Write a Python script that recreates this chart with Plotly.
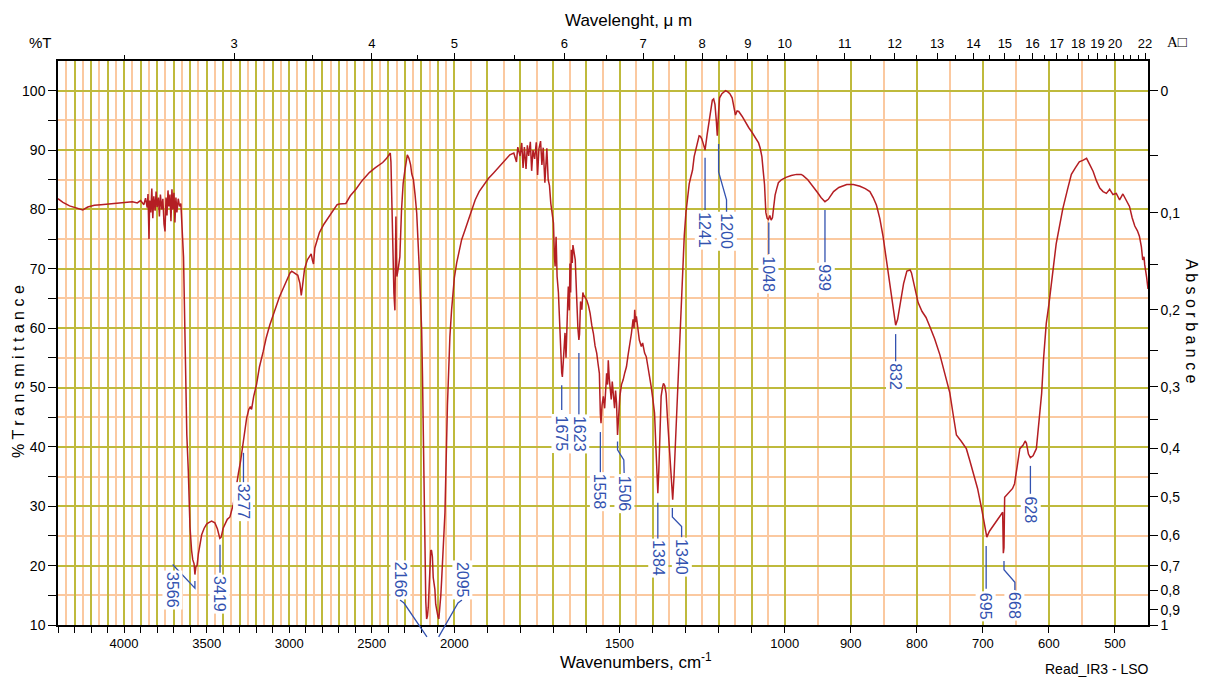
import plotly.graph_objects as go

# ---------------- data ----------------
wavenumber = [
    4400, 4370, 4330, 4290, 4250, 4220, 4180, 4140, 4100, 4060, 4020, 3980, 3950, 3920, 3900,
    3880, 3870, 3860, 3855, 3849, 3845, 3838, 3832, 3826, 3820, 3812, 3806, 3800, 3792, 3786,
    3780, 3772, 3765, 3758, 3752, 3746, 3740, 3734, 3728, 3722, 3716, 3710, 3704, 3698, 3692,
    3686, 3680, 3672, 3664, 3656, 3650, 3645, 3640, 3636, 3631, 3626, 3620, 3611, 3605, 3601,
    3591, 3584, 3576, 3571, 3565, 3558, 3550, 3540, 3530, 3515, 3500, 3490, 3470, 3450, 3435,
    3420, 3412, 3400, 3389, 3375, 3359, 3345, 3339, 3325, 3315, 3308, 3295, 3285, 3278, 3268,
    3258, 3245, 3235, 3228, 3215, 3198, 3180, 3158, 3140, 3118, 3100, 3078, 3060, 3038, 3015,
    2995, 2985, 2965, 2948, 2935, 2927, 2920, 2907, 2890, 2867, 2860, 2853, 2845, 2830, 2817,
    2790, 2757, 2730, 2710, 2697, 2677, 2657, 2630, 2596, 2560, 2515, 2480, 2434, 2410, 2394,
    2388, 2384, 2378, 2374, 2368, 2366, 2360, 2356, 2354, 2351, 2348, 2340, 2330, 2320, 2310,
    2300, 2293, 2285, 2275, 2265, 2258, 2248, 2238, 2228, 2212, 2198, 2193, 2188, 2183, 2178,
    2173, 2168, 2163, 2158, 2153, 2148, 2143, 2138, 2133, 2128, 2118, 2113, 2108, 2100, 2094,
    2088, 2082, 2077, 2068, 2057, 2052, 2047, 2042, 2037, 2032, 2027, 2017, 2007, 2000, 1993,
    1985, 1978, 1968, 1958, 1948, 1937, 1925, 1912, 1897, 1882, 1867, 1852, 1842, 1832, 1820,
    1812, 1808, 1801, 1796, 1792, 1788, 1783, 1779, 1775, 1770, 1766, 1762, 1757, 1752, 1748,
    1744, 1739, 1735, 1731, 1726, 1722, 1720, 1716, 1712, 1708, 1705, 1700, 1697, 1695, 1692,
    1689, 1685, 1682, 1678, 1675, 1673, 1670, 1667, 1665, 1662, 1660, 1657, 1655, 1652, 1650,
    1648, 1646, 1643, 1641, 1638, 1634, 1631, 1629, 1626, 1623, 1621, 1618, 1614, 1611, 1609,
    1604, 1599, 1594, 1589, 1584, 1579, 1574, 1569, 1565, 1561, 1558, 1556, 1553, 1549, 1545,
    1542, 1539, 1536, 1534, 1531, 1529, 1525, 1522, 1519, 1515, 1512, 1509, 1506, 1503, 1499,
    1494, 1489, 1484, 1479, 1474, 1469, 1464, 1459, 1456, 1454, 1451, 1449, 1444, 1440, 1434,
    1430, 1424, 1419, 1414, 1409, 1404, 1399, 1394, 1389, 1384, 1381, 1379, 1374, 1370, 1367,
    1363, 1359, 1355, 1351, 1347, 1344, 1339, 1335, 1332, 1328, 1324, 1319, 1314, 1309, 1304,
    1299, 1294, 1289, 1284, 1279, 1274, 1269, 1264, 1259, 1255, 1251, 1246, 1241, 1235, 1229,
    1224, 1219, 1215, 1211, 1207, 1204, 1200, 1197, 1190, 1185, 1179, 1172, 1166, 1159, 1154,
    1149, 1144, 1139, 1129, 1119, 1109, 1099, 1089, 1079, 1074, 1069, 1065, 1061, 1057, 1053,
    1049, 1045, 1041, 1037, 1033, 1029, 1024, 1019, 1010, 998, 990, 982, 975, 972, 965,
    957, 950, 945, 939, 934, 926, 918, 906, 896, 886, 878, 871, 866, 861, 856,
    851, 846, 841, 836, 832, 829, 825, 820, 815, 810, 808, 803, 798, 792, 786,
    780, 773, 765, 758, 750, 745, 740, 733, 725, 720, 715, 708, 702, 698, 694,
    690, 684, 678, 672, 670, 669, 668, 667, 663, 659, 655, 652, 648, 644, 639,
    636, 634, 631, 628, 624, 619, 615, 611, 608, 604, 600, 596, 593, 589, 584,
    579, 572, 566, 560, 554, 548, 543, 538, 533, 528, 523, 518, 513, 508, 503,
    498, 493, 488, 483, 478, 474, 470, 466, 463, 460, 458, 456, 455, 452, 450,
]

transmittance = [
    81.8, 81.2, 80.6, 80.2, 79.9, 80.4, 80.7, 80.8, 80.9, 81.0, 81.1, 81.2, 81.3, 81.1, 81.5,
    80.8, 81.9, 80.3, 82.6, 75.0, 81.5, 79.5, 83.5, 78.5, 82.2, 79.8, 83.0, 80.4, 82.0, 78.8,
    82.5, 80.0, 81.8, 77.5, 76.3, 82.0, 79.0, 83.2, 80.5, 82.5, 78.0, 83.4, 80.0, 82.8, 77.8,
    82.0, 79.5, 81.8, 80.5, 81.0, 78.0, 74.5, 72.0, 66.0, 57.5, 48.0, 42.0, 36.0, 30.0, 26.6,
    22.5, 21.0, 20.3, 18.5, 19.8, 20.0, 22.0, 24.0, 25.2, 26.3, 27.0, 27.2, 27.5, 27.2, 26.2,
    24.6, 24.8, 26.3, 27.0, 27.8, 28.2, 29.5, 30.3, 32.5, 34.5, 35.5, 37.5, 39.5, 40.5, 42.5,
    44.8, 46.3, 46.8, 46.3, 48.5, 50.5, 53.5, 56.0, 58.3, 60.5, 62.0, 63.8, 65.2, 66.6, 68.0,
    69.3, 69.6, 69.3, 68.9, 67.5, 65.5, 67.0, 70.0, 71.5, 72.5, 71.5, 70.8, 73.5, 75.0, 76.1,
    77.5, 78.9, 80.0, 80.8, 80.9, 80.9, 81.0, 82.3, 83.4, 84.8, 86.2, 87.0, 87.9, 88.6, 89.3,
    89.5, 88.0, 80.0, 77.1, 70.0, 65.9, 63.0, 70.0, 78.8, 72.0, 68.7, 70.0, 72.0, 79.9, 84.4,
    86.5, 88.3, 89.2, 88.6, 87.5, 86.0, 85.0, 82.5, 79.4, 69.8, 59.7, 52.0, 42.9, 32.0, 20.5,
    14.0, 11.0, 11.5, 13.0, 16.5, 20.0, 22.6, 22.5, 21.5, 18.0, 16.0, 13.5, 12.6, 11.5, 11.0,
    12.5, 15.0, 17.6, 22.0, 28.9, 35.0, 42.9, 47.0, 50.8, 55.0, 58.6, 63.0, 66.4, 68.5, 71.0,
    73.0, 74.9, 76.5, 78.2, 80.0, 81.6, 83.0, 84.1, 85.2, 86.1, 87.0, 88.0, 88.6, 89.2, 89.5,
    88.0, 90.5, 89.0, 91.2, 87.0, 90.5, 86.8, 90.8, 89.0, 91.4, 86.5, 90.0, 88.5, 91.3, 85.8,
    90.2, 91.5, 87.5, 90.4, 84.5, 90.0, 90.3, 85.0, 84.0, 81.0, 79.9, 77.7, 72.0, 70.4, 75.4,
    68.7, 66.0, 61.4, 56.9, 52.5, 51.8, 54.6, 57.5, 59.2, 55.0, 61.4, 64.0, 67.0, 63.0, 70.9,
    66.0, 73.2, 71.0, 74.0, 72.5, 71.5, 67.0, 63.6, 60.0, 58.0, 59.0, 64.5, 63.1, 66.0, 65.6,
    65.2, 64.7, 63.8, 62.5, 60.5, 59.1, 57.0, 55.8, 54.0, 52.4, 45.5, 44.0, 47.0, 48.5, 46.5,
    50.0, 52.4, 50.5, 54.6, 51.5, 50.2, 48.0, 51.0, 49.0, 46.5, 49.5, 47.4, 42.0, 45.0, 48.5,
    50.5, 51.3, 52.5, 53.5, 55.5, 57.0, 59.1, 61.5, 60.0, 63.1, 61.0, 62.0, 59.7, 58.0, 56.9,
    57.5, 55.8, 55.2, 53.5, 52.0, 50.1, 48.0, 45.7, 38.9, 32.2, 36.0, 41.2, 48.5, 50.0, 50.7,
    50.3, 49.0, 45.0, 41.2, 37.0, 34.4, 31.1, 35.0, 38.9, 44.0, 50.1, 56.0, 61.4, 70.0, 75.5,
    79.4, 82.0, 84.3, 85.5, 86.6, 88.9, 90.2, 91.3, 92.4, 92.3, 91.9, 91.0, 90.0, 92.5, 94.7,
    96.8, 98.4, 98.6, 97.7, 95.0, 92.4, 96.5, 98.8, 99.5, 99.8, 100.0, 99.8, 99.5, 98.8, 97.5,
    95.9, 96.6, 96.5, 95.7, 94.7, 93.8, 93.0, 92.0, 91.2, 90.3, 88.9, 86.5, 84.2, 79.5, 78.5,
    78.3, 79.0, 78.2, 78.6, 80.5, 82.4, 83.5, 84.5, 85.0, 85.4, 85.7, 85.9, 85.9, 85.7, 85.0,
    83.9, 82.8, 82.0, 81.3, 81.7, 83.0, 83.7, 84.2, 84.2, 83.9, 83.5, 83.0, 82.0, 80.7, 78.5,
    75.4, 71.5, 67.8, 63.5, 60.5, 61.5, 64.3, 67.5, 69.6, 69.8, 69.3, 67.0, 64.3, 62.8, 61.8,
    60.2, 58.2, 55.5, 52.5, 49.1, 45.5, 42.0, 41.0, 39.7, 37.8, 35.6, 33.0, 29.7, 27.0, 24.8,
    25.8, 26.8, 27.8, 28.6, 29.0, 22.1, 23.0, 31.5, 32.0, 32.4, 33.0, 33.8, 36.5, 39.7, 40.3,
    41.0, 40.6, 38.8, 38.2, 38.5, 39.7, 44.0, 49.0, 55.0, 60.8, 64.0, 67.2, 70.5, 74.2, 77.5,
    80.1, 83.3, 85.9, 87.0, 88.0, 88.3, 88.6, 87.5, 86.4, 84.8, 83.6, 83.0, 82.7, 83.4, 82.5,
    82.7, 81.6, 82.6, 81.6, 80.5, 78.6, 77.2, 76.4, 75.5, 73.7, 71.5, 72.0, 70.7, 68.5, 66.6,
]

# labelled peaks (cm-1)
peak_labels = [3566, 3419, 3277, 2166, 2095, 1675, 1623, 1558, 1506, 1384, 1340,
               1241, 1200, 1048, 939, 832, 695, 668, 628]

# axis tick values
wn_major_ticks = list(range(4400, 499, -100))
wn_labelled = [4000, 3500, 3000, 2500, 2000, 1500, 1000, 900, 800, 700, 600, 500]
wn_minor_ticks = list(range(4350, 549, -100))
wl_major = [3, 4, 5, 6, 7, 8, 9, 10, 11, 12, 13, 14, 15, 16, 17, 18, 19, 20, 22]
wl_minor = [2.5, 3.5, 4.5, 5.5, 6.5, 7.5, 8.5, 9.5, 10.5, 11.5, 12.5, 13.5, 14.5, 15.5,
            16.5, 17.5, 18.5, 19.5, 20.5, 21, 21.5]
t_major = list(range(10, 101, 10))
t_minor = list(range(15, 96, 10))
abs_major = [0, 0.1, 0.2, 0.3, 0.4, 0.5, 0.6, 0.7, 0.8, 0.9, 1.0]
abs_minor = [0.05, 0.15, 0.25, 0.35, 0.45]

# ---------------- style ----------------
RED = "#b41e23"
BLUE = "#3352b0"
OLIVE = "#bfba3c"
ORANGE = "#fbc9a0"
FONT = "Arial, Liberation Sans, sans-serif"

NU_LEFT, NU_RIGHT = 4400, 450
T_MIN, T_MAX = 10, 105


def u_of(nu):
    """Piecewise-linear (compressed) wavenumber scale used by the spectrometer plot."""
    if nu >= 2000:
        return NU_LEFT - nu
    if nu >= 1000:
        return (NU_LEFT - 2000) + 2 * (2000 - nu)
    return (NU_LEFT - 2000) + 2000 + 4 * (1000 - nu)


U_MAX = u_of(NU_RIGHT)


def xp(nu):
    return u_of(nu) / U_MAX


def yp(t):
    return (t - T_MIN) / (T_MAX - T_MIN)


# label placement: peak -> (text wavenumber, text %T, leader path [(nu, %T), ...])
label_layout = {
    3566: (3710, 15.9, [(3571, 17.4), (3571, 16.2), (3706, 20.2)]),
    3419: (3419, 15.2, [(3419, 23.5), (3419, 18.8)]),
    3277: (3277, 30.7, [(3277, 39.0), (3277, 33.9)]),
    2166: (2329, 17.6, [(2329, 14.2), (2305, 13.7), (2166, 8.0)]),
    2095: (1977, 17.6, [(1977, 14.2), (1989, 13.7), (2095, 8.0)]),
    1675: (1675, 42.3, [(1675, 50.4), (1675, 46.2)]),
    1623: (1623, 42.2, [(1623, 55.8), (1623, 45.4)]),
    1558: (1558, 32.4, [(1558, 42.5), (1558, 35.6)]),
    1506: (1486, 32.1, [(1506, 40.9), (1506, 39.5), (1487, 37.8), (1486, 35.6)]),
    1384: (1384, 21.3, [(1384, 30.6), (1384, 24.3)]),
    1340: (1312, 21.5, [(1340, 29.7), (1340, 28.2), (1312, 26.6), (1312, 24.8)]),
    1241: (1241, 76.5, [(1241, 88.7), (1241, 79.9)]),
    1200: (1176, 76.4, [(1200, 91.0), (1200, 86.3), (1176, 81.6), (1176, 79.4)]),
    1048: (1048, 69.1, [(1048, 77.8), (1048, 72.5)]),
    939: (939, 68.4, [(939, 79.9), (939, 71.1)]),
    832: (832, 51.8, [(832, 59.0), (832, 54.4)]),
    695: (695, 13.2, [(695, 23.3), (695, 16.1)]),
    668: (651.5, 13.2, [(668, 20.8), (668, 19.3), (651.5, 17.2), (651.5, 15.9)]),
    628: (628, 29.4, [(628, 36.8), (628, 32.1)]),
}

# ---------------- figure ----------------
fig = go.Figure()
fig.add_trace(go.Scatter(
    x=[u_of(n) for n in wavenumber], y=transmittance, mode="lines",
    line=dict(color=RED, width=1.5), hoverinfo="skip", showlegend=False,
))
# carrier trace so the wavelength (top) and absorbance (right) axes are drawn
fig.add_trace(go.Scatter(
    x=[0, U_MAX], y=[T_MIN, T_MAX], xaxis="x2", yaxis="y2", mode="markers",
    marker=dict(opacity=0), hoverinfo="skip", showlegend=False,
))

tick_font = dict(family=FONT, size=13, color="black")
ytick_font = dict(family=FONT, size=14, color="black")

fig.update_layout(
    width=1205, height=680,
    margin=dict(l=58, r=57, t=61, b=55),
    paper_bgcolor="white", plot_bgcolor="white",
    showlegend=False,
    xaxis=dict(
        range=[0, U_MAX], showline=True, linecolor="black", linewidth=1.5, mirror=True,
        zeroline=False,
        tickmode="array",
        tickvals=[u_of(v) for v in wn_major_ticks],
        ticktext=[str(v) if v in wn_labelled else "" for v in wn_major_ticks],
        tickangle=0,
        ticks="outside", ticklen=6, tickcolor="black", tickwidth=1,
        tickfont=tick_font,
        showgrid=True, gridcolor=OLIVE, gridwidth=2,
        minor=dict(tickmode="array", tickvals=[u_of(v) for v in wn_minor_ticks],
                   ticks="", showgrid=True, gridcolor=ORANGE, gridwidth=1.5),
    ),
    xaxis2=dict(
        range=[0, U_MAX], overlaying="x", side="top", anchor="y2",
        showline=True, linecolor="black", linewidth=1.5, zeroline=False,
        tickmode="array",
        tickvals=[u_of(10000 / w) for w in wl_major],
        ticktext=[str(w) for w in wl_major],
        tickangle=0,
        ticks="outside", ticklen=6, tickcolor="black", tickwidth=1,
        tickfont=tick_font, showgrid=False,
        minor=dict(tickmode="array", tickvals=[u_of(10000 / w) for w in wl_minor],
                   ticks="outside", ticklen=4, tickcolor="black", showgrid=False),
    ),
    yaxis=dict(
        range=[T_MIN, T_MAX], showline=True, linecolor="black", linewidth=1.5, mirror=True,
        zeroline=False,
        tickmode="array", tickvals=t_major, ticktext=[str(v) for v in t_major],
        ticks="outside", ticklen=8, tickcolor="black", tickwidth=1,
        tickfont=ytick_font,
        showgrid=True, gridcolor=OLIVE, gridwidth=2,
        minor=dict(tickmode="array", tickvals=t_minor, ticks="outside", ticklen=8,
                   tickcolor="black", showgrid=True, gridcolor=ORANGE, gridwidth=1.5),
    ),
    yaxis2=dict(
        range=[T_MIN, T_MAX], overlaying="y", side="right", anchor="x2",
        showline=True, linecolor="black", linewidth=1.5, zeroline=False,
        tickmode="array",
        tickvals=[100 * 10 ** (-a) for a in abs_major],
        ticktext=[("%g" % a).replace(".", ",") for a in abs_major],
        ticks="outside", ticklen=8, tickcolor="black", tickwidth=1,
        tickfont=ytick_font, showgrid=False,
        minor=dict(tickmode="array", tickvals=[100 * 10 ** (-a) for a in abs_minor],
                   ticks="outside", ticklen=8, tickcolor="black", showgrid=False),
    ),
)

# peak labels and leader lines
shapes = []
annotations = []
for p in peak_labels:
    tx_nu, tx_t, path = label_layout[p]
    d = "M " + " L ".join("%.5f,%.5f" % (xp(n), yp(t)) for n, t in path)
    shapes.append(dict(type="path", path=d, xref="paper", yref="paper",
                       line=dict(color=BLUE, width=1.3), layer="above"))
    annotations.append(dict(
        x=xp(tx_nu), y=yp(tx_t), xref="paper", yref="paper",
        text=str(p), textangle=90, showarrow=False,
        xanchor="center", yanchor="middle",
        font=dict(family=FONT, size=16, color=BLUE),
        bgcolor="white", borderpad=1,
    ))

# titles and captions (paper coordinates derived from the 1090 x 564 plot area)
PW, PH, L, B = 1090.0, 564.0, 58.0, 625.0


def px(xpix):
    return (xpix - L) / PW


def py(ypix):
    return (B - ypix) / PH


annotations += [
    dict(x=px(40), y=py(42), text="%T", font=dict(family=FONT, size=15, color="black")),
    dict(x=px(628), y=py(21), text="Wavelenght, \u03bc m",
         font=dict(family=FONT, size=17, color="black")),
    dict(x=px(636), y=py(661), text="Wavenumbers, cm<sup>-1</sup>",
         font=dict(family=FONT, size=17, color="black")),
    dict(x=px(19), y=py(372), text="% T r a n s m i t t a n c e", textangle=-90,
         font=dict(family=FONT, size=16, color="black")),
    dict(x=px(1192), y=py(322), text="A b s o r b a n c e", textangle=90,
         font=dict(family=FONT, size=16, color="black")),
    dict(x=px(1097), y=py(669), text="Read_IR3 - LSO",
         font=dict(family=FONT, size=14, color="black")),
    dict(x=px(1177), y=py(42), text="A\u25a1",
         font=dict(family="Liberation Serif, serif", size=15, color="black")),
]
for a in annotations[len(peak_labels):]:
    a.update(xref="paper", yref="paper", showarrow=False,
             xanchor="center", yanchor="middle")

fig.update_layout(shapes=shapes, annotations=annotations)
fig.write_html("out.html")
